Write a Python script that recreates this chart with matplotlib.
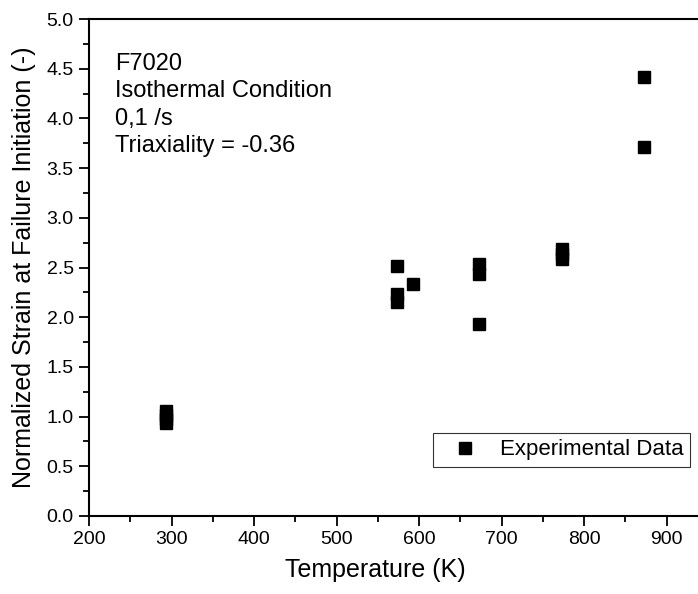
import matplotlib.pyplot as plt
from matplotlib.ticker import MultipleLocator

plt.rcParams['font.family'] = ['Liberation Sans', 'DejaVu Sans']

temperature = [293, 293, 293, 293,
               573, 573, 573, 593,
               673, 673, 673,
               773, 773, 773,
               873, 873]
strain = [1.06, 1.02, 0.98, 0.94,
          2.52, 2.23, 2.15, 2.33,
          2.54, 2.43, 1.93,
          2.69, 2.64, 2.59,
          4.42, 3.71]

info_lines = ['F7020', 'Isothermal Condition', '0,1 /s', 'Triaxiality = -0.36']

fig = plt.figure(figsize=(6.98, 5.94), dpi=100)
# axes run past the right edge of the figure, as in the original
ax = fig.add_axes([89 / 698, 78 / 594, 619 / 698, 497 / 594])

ax.plot(temperature, strain, linestyle='none', marker='s', markersize=8,
        color='black', label='Experimental Data')

ax.set_xlim(200, 950)
ax.set_ylim(0, 5.0)
ax.xaxis.set_major_locator(MultipleLocator(100))
ax.xaxis.set_minor_locator(MultipleLocator(50))
ax.yaxis.set_major_locator(MultipleLocator(0.5))
ax.yaxis.set_minor_locator(MultipleLocator(0.25))
ax.yaxis.set_major_formatter(plt.FormatStrFormatter('%.1f'))

for side in ['top', 'bottom', 'left', 'right']:
    ax.spines[side].set_linewidth(1.5)
ax.tick_params(which='major', direction='out', length=7, width=1.3, labelsize=14, pad=4)
ax.tick_params(which='minor', direction='out', length=4, width=1.3)
ax.tick_params(top=False, right=False, which='both')

ax.set_xlabel('Temperature (K)', fontsize=18)
ax.set_ylabel('Normalized Strain at Failure Initiation (-)', fontsize=18)
ax.xaxis.set_label_coords((375 - 89) / 619, -(570 - 516) / 497)
ax.yaxis.set_label_coords(-(89 - 24) / 619, 0.5)
ax.xaxis.label.set_va('center')
ax.yaxis.label.set_va('center')

# info block, one line at a time
line_y = [64, 91, 119, 146]
for txt, yp in zip(info_lines, line_y):
    ax.text(115 / 698, 1 - yp / 594, txt, transform=fig.transFigure,
            fontsize=17, va='center', ha='left')

leg = ax.legend(loc='lower left', bbox_to_anchor=(433 / 698, 127 / 594),
                bbox_transform=fig.transFigure, fontsize=16, frameon=True,
                fancybox=False, borderaxespad=0, handlelength=2.3,
                handletextpad=0.4, borderpad=0.3, numpoints=1)
leg.get_frame().set_edgecolor('black')
leg.get_frame().set_linewidth(0.8)

fig.savefig('out.png', dpi=100)
